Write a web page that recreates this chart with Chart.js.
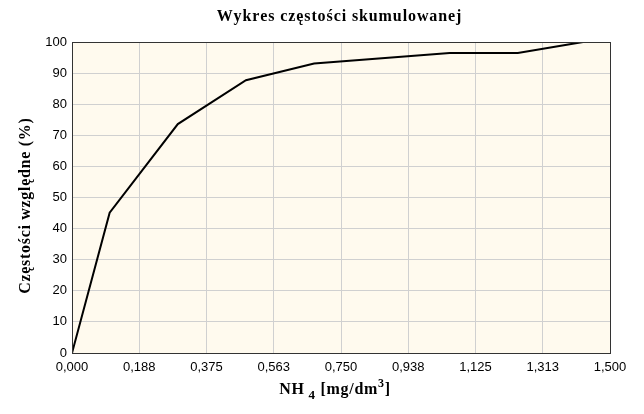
<!DOCTYPE html>
<html>
<head>
<meta charset="utf-8">
<script src="https://cdn.jsdelivr.net/npm/chart.js@4/dist/chart.umd.min.js"></script>
<style>
html,body{margin:0;padding:0;background:#fff;}
#wrap{width:644px;height:414px;position:relative;}
</style>
</head>
<body>
<div id="wrap"><canvas id="c" width="644" height="414"></canvas></div>
<script>
const chartTitle = "Wykres częstości skumulowanej";
const yTitle = "Częstości względne (%)";
const xValues = [0, 0.105, 0.295, 0.485, 0.675, 1.053, 1.243, 1.425];
const yValues = [0, 45.1, 73.6, 87.7, 93.1, 96.5, 96.5, 100];
const xTicks = [0, 0.1875, 0.375, 0.5625, 0.75, 0.9375, 1.125, 1.3125, 1.5];
const xTickLabels = ["0,000","0,188","0,375","0,563","0,750","0,938","1,125","1,313","1,500"];
const yTicks = [0,10,20,30,40,50,60,70,80,90,100];

const serif = "'Liberation Serif','Times New Roman',serif";
const sans = "'Liberation Sans',Arial,sans-serif";

function spacedText(ctx, text, x, y, spacing) {
  let cx = x;
  for (const ch of text) {
    ctx.fillText(ch, cx, y);
    cx += ctx.measureText(ch).width + spacing;
  }
  return cx - x;
}
function spacedWidth(ctx, text, spacing) {
  let w = 0;
  for (const ch of text) w += ctx.measureText(ch).width + spacing;
  return w - spacing;
}

const decor = {
  id: 'decor',
  beforeDraw(chart) {
    const {ctx, chartArea: a} = chart;
    ctx.save();
    ctx.fillStyle = '#fffaee';
    ctx.fillRect(a.left, a.top, a.right - a.left, a.bottom - a.top);
    ctx.restore();
  },
  afterDraw(chart) {
    const {ctx, chartArea: a} = chart;
    ctx.save();
    ctx.strokeStyle = '#333';
    ctx.lineWidth = 1;
    ctx.strokeRect(a.left + 0.5, a.top + 0.5, a.right - a.left, a.bottom - a.top);
    ctx.fillStyle = '#000';
    ctx.textAlign = 'left';
    ctx.textBaseline = 'middle';
    // title
    ctx.font = "bold 16px " + serif;
    let tw = spacedWidth(ctx, chartTitle, 0.9);
    spacedText(ctx, chartTitle, 339 - tw / 2, 17, 0.9);
    // y title
    ctx.save();
    ctx.translate(26, 206);
    ctx.rotate(-Math.PI / 2);
    ctx.font = "bold 16px " + serif;
    tw = spacedWidth(ctx, yTitle, 0.7);
    spacedText(ctx, yTitle, -tw / 2, 0, 0.7);
    ctx.restore();
    // x title with sub/sup
    const parts = [
      {t: "NH", f: "bold 16px " + serif, dy: 0},
      {t: " 4", f: "bold 13px " + serif, dy: 5},
      {t: " [mg/dm", f: "bold 16px " + serif, dy: 0},
      {t: "3", f: "bold 12px " + serif, dy: -7},
      {t: "]", f: "bold 16px " + serif, dy: 0}
    ];
    const sp = 0.7;
    let w = 0;
    parts.forEach(p => { ctx.font = p.f; p.w = spacedWidth(ctx, p.t, sp) + sp; w += p.w; });
    let x = 335 - w / 2;
    const y = 394;
    ctx.textBaseline = 'alphabetic';
    parts.forEach(p => { ctx.font = p.f; spacedText(ctx, p.t, x, y + p.dy, sp); x += p.w; });
    ctx.restore();
  }
};

const tickFont = {family: sans, size: 13};

new Chart(document.getElementById('c'), {
  type: 'scatter',
  data: {
    datasets: [{
      data: xValues.map((v, i) => ({x: v, y: yValues[i]})),
      showLine: true,
      borderColor: '#000',
      borderWidth: 2,
      pointRadius: 0,
      tension: 0,
      fill: false
    }]
  },
  options: {
    responsive: false,
    animation: false,
    layout: {padding: {top: 42, right: 34, left: 0, bottom: 0}},
    plugins: {legend: {display: false}, tooltip: {enabled: false}, title: {display: false}},
    scales: {
      x: {
        type: 'linear', min: 0, max: 1.5,
        afterBuildTicks: s => { s.ticks = xTicks.map(v => ({value: v})); },
        afterFit: s => { s.height = 61; },
        ticks: {
          callback: (v, i) => xTickLabels[i],
          font: tickFont, color: '#000', padding: 7, maxRotation: 0, autoSkip: false
        },
        grid: {color: '#d0d0d0', lineWidth: 1, drawTicks: false},
        border: {display: false}
      },
      y: {
        type: 'linear', min: 0, max: 100,
        afterBuildTicks: s => { s.ticks = yTicks.map(v => ({value: v})); },
        afterFit: s => { s.width = 72; },
        ticks: {
          font: tickFont, color: '#000', padding: 5, autoSkip: false
        },
        grid: {color: '#d0d0d0', lineWidth: 1, drawTicks: false},
        border: {display: false}
      }
    }
  },
  plugins: [decor]
});
</script>
</body>
</html>
